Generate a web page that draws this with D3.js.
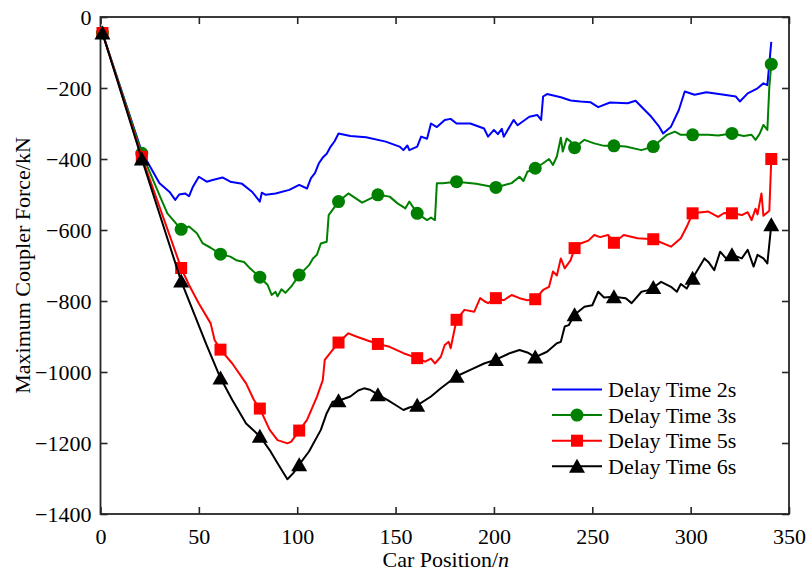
<!DOCTYPE html>
<html>
<head>
<meta charset="utf-8">
<script src="https://cdn.jsdelivr.net/npm/d3@7"></script>
<style>
  html, body { margin: 0; padding: 0; background: #fff; }
  svg { display: block; }
  svg text { font-family: "Liberation Serif", "Tinos", "Times New Roman", "DejaVu Serif", serif !important; fill: #000; }
</style>
</head>
<body>
<svg id="chart" width="811" height="573"></svg>
<script>
// Maximum coupler force along the train for four brake delay times.
// Each series is [car position, force in kN]; markers are shown every 20 cars.
const seriesNames = ["Delay Time 2s", "Delay Time 3s", "Delay Time 5s", "Delay Time 6s"];
const seriesColors = ["#0000ff", "#008000", "#ff0000", "#000000"];
const seriesMarkers = ["none", "circle", "square", "triangle"];

const delay2s = [
  [1,-46],[21,-380],[30,-468],[35,-492],[38,-515],[40,-500],[43,-497],[45,-505],[47,-478],[50,-450],
  [54,-464],[57,-459],[62,-452],[66,-464],[72,-470],[77,-492],[81,-520],[82,-495],[84,-501],[89,-497],
  [96,-487],[101,-473],[105,-483],[107,-454],[109,-440],[111,-412],[113,-396],[115,-385],[117,-365],
  [119,-350],[121,-328],[127,-335],
  [135,-339],[145,-351],[152,-365],[154,-375],[156,-362],[157,-375],[161,-365],[163,-337],[166,-343],
  [168,-300],[171,-310],[175,-290],[178,-287],[181,-300],[188,-300],[195,-314],[197,-337],[200,-318],
  [202,-330],[204,-315],[205,-337],[210,-290],[212,-305],[218,-281],[222,-276],[224,-290],[225,-224],
  [227,-217],[234,-226],[239,-235],[244,-238],[249,-240],[253,-254],[259,-241],[268,-243],[272,-236],
  [280,-281],[284,-309],[286,-328],[290,-309],[294,-262],[297,-210],[302,-219],[308,-212],[317,-219],
  [323,-224],[325,-238],[329,-215],[334,-201],[337,-187],[339,-192],[341,-70]
];

const delay3s = [
  [1,-45],[21,-384],[31,-515],[34,-553],[41,-598],[45,-590],[49,-609],[52,-638],[56,-650],[61,-668],
  [66,-675],[69,-685],[73,-690],[76,-708],[81,-733],[85,-755],[87,-783],[89,-774],[90,-787],[92,-767],
  [94,-777],[97,-759],[101,-727],[106,-699],[108,-680],[110,-670],[112,-638],[115,-633],[116,-558],
  [121,-520],[126,-497],[133,-523],[141,-501],[147,-506],[151,-525],[155,-539],[157,-520],[161,-553],
  [166,-572],[168,-565],[170,-572],[171,-468],[174,-468],[181,-464],[191,-470],[201,-480],[205,-474],
  [209,-468],[213,-450],[215,-462],[217,-436],[221,-426],[225,-412],[228,-400],[230,-417],[232,-393],
  [234,-340],[235,-379],[237,-342],[239,-351],[241,-368],[246,-346],[251,-356],[256,-363],[261,-363],
  [267,-365],[275,-375],[281,-365],[288,-332],[292,-323],[295,-332],[301,-332],[309,-332],[314,-334],
  [321,-328],[327,-335],[331,-332],[333,-346],[335,-330],[337,-304],[339,-318],[340,-196],[341,-133]
];

const delay5s = [
  [1,-45],[21,-394],[41,-707],[45,-755],[50,-807],[56,-863],[58,-910],[61,-937],[67,-976],[74,-1032],
  [78,-1079],[81,-1103],[86,-1163],[90,-1192],[95,-1201],[97,-1196],[101,-1165],[105,-1135],[110,-1070],
  [113,-1023],[114,-966],[117,-945],[121,-917],[126,-891],[130,-900],[135,-910],[141,-921],[147,-929],
  [154,-947],[161,-961],[165,-971],[168,-962],[170,-976],[173,-957],[175,-924],[177,-915],[178,-933],
  [181,-853],[185,-825],[190,-830],[193,-792],[195,-800],[197,-806],[201,-792],[205,-798],[209,-783],
  [213,-792],[217,-798],[221,-795],[225,-769],[228,-760],[230,-717],[232,-728],[234,-680],[236,-708],
  [239,-685],[241,-651],[244,-638],[248,-630],[251,-614],[254,-620],[258,-614],[261,-636],[266,-614],
  [273,-623],[281,-626],[290,-647],[295,-623],[298,-591],[301,-553],[309,-548],[314,-563],[317,-552],
  [321,-553],[326,-558],[329,-550],[331,-572],[333,-540],[334,-556],[336,-497],[337,-560],[340,-546],
  [341,-400]
];

const delay6s = [
  [1,-45],[21,-400],[41,-744],[54,-925],[61,-1017],[67,-1079],[74,-1145],[81,-1181],[86,-1220],
  [90,-1257],[95,-1302],[98,-1285],[101,-1261],[106,-1224],[112,-1163],[115,-1116],[118,-1084],[121,-1081],
  [127,-1069],[131,-1052],[134,-1046],[137,-1050],[141,-1064],[146,-1079],[150,-1093],[154,-1107],
  [157,-1100],[161,-1094],[168,-1069],[173,-1046],[181,-1012],[188,-994],[195,-976],[201,-965],[208,-947],
  [213,-938],[217,-945],[221,-958],[227,-943],[232,-919],[234,-915],[236,-872],[238,-868],[241,-839],
  [246,-816],[250,-812],[253,-774],[256,-790],[261,-788],[267,-792],[270,-806],[275,-774],[278,-770],
  [281,-762],[285,-746],[290,-760],[293,-774],[295,-752],[298,-765],[301,-736],[307,-680],[309,-690],
  [312,-713],[315,-661],[318,-680],[321,-670],[326,-680],[329,-656],[332,-703],[334,-670],[337,-680],
  [339,-694],[341,-585]
];

const seriesData = [delay2s, delay3s, delay5s, delay6s];

const xTicks = [0, 50, 100, 150, 200, 250, 300, 350];
const yTicks = [0, -200, -400, -600, -800, -1000, -1200, -1400];
const xTitle = "Car Position/";
const xTitleItalic = "n";
const yTitle = "Maximum Coupler Force/kN";

const svg = d3.select("#chart");
const plotLeft = 100.5, plotRight = 789, plotTop = 17, plotBottom = 514;
const fontSize = 22;

const x = d3.scaleLinear().domain([0, 350]).range([plotLeft, plotRight]);
const y = d3.scaleLinear().domain([-1400, 0]).range([plotBottom, plotTop]);

const frameColor = "#262626";
const fmt = d3.format("d");

// Axes with inward ticks, mirrored on top and right
function styleAxis(g) {
  g.attr("font-family", null).attr("font-size", null);
  g.select(".domain").remove();
  g.selectAll(".tick line").attr("stroke", frameColor).attr("stroke-width", 1.6);
  g.selectAll(".tick text").attr("font-size", fontSize).attr("fill", "#000");
}

svg.append("g").attr("transform", `translate(0,${plotBottom})`)
  .call(d3.axisBottom(x).tickValues(xTicks).tickFormat(fmt).tickSizeInner(-7).tickSizeOuter(0).tickPadding(14))
  .call(styleAxis);
svg.append("g").attr("transform", `translate(0,${plotTop})`)
  .call(d3.axisTop(x).tickValues(xTicks).tickSizeInner(-7).tickSizeOuter(0).tickFormat(""))
  .call(styleAxis);
svg.append("g").attr("transform", `translate(${plotLeft},0)`)
  .call(d3.axisLeft(y).tickValues(yTicks).tickFormat(fmt).tickSizeInner(-7).tickSizeOuter(0).tickPadding(9))
  .call(styleAxis);
svg.append("g").attr("transform", `translate(${plotRight},0)`)
  .call(d3.axisRight(y).tickValues(yTicks).tickSizeInner(-7).tickSizeOuter(0).tickFormat(""))
  .call(styleAxis);

// Plot frame
svg.append("rect")
  .attr("x", plotLeft).attr("y", plotTop)
  .attr("width", plotRight - plotLeft).attr("height", plotBottom - plotTop)
  .attr("fill", "none").attr("stroke", frameColor).attr("stroke-width", 1.8);

// Marker shapes
function markerPath(kind) {
  if (kind === "circle") return d3.symbol(d3.symbolCircle, Math.PI * 6.5 * 6.5)();
  if (kind === "square") return "M-6,-6H6V6H-6Z";
  if (kind === "triangle") return "M0,-7.5L8,6.5L-8,6.5Z";
  return null;
}

const line = d3.line().x(d => x(d[0])).y(d => y(d[1]));

seriesData.forEach((data, i) => {
  const g = svg.append("g");
  g.append("path").datum(data)
    .attr("d", line)
    .attr("fill", "none")
    .attr("stroke", seriesColors[i])
    .attr("stroke-width", 2)
    .attr("stroke-linejoin", "round");
  const mk = markerPath(seriesMarkers[i]);
  if (mk) {
    g.selectAll("path.mk").data(data.filter(d => (d[0] - 1) % 20 === 0))
      .join("path").attr("class", "mk")
      .attr("d", mk)
      .attr("transform", d => `translate(${x(d[0])},${y(d[1])})`)
      .attr("fill", seriesColors[i]);
  }
});

// Axis titles
svg.append("text")
  .attr("x", (plotLeft + plotRight) / 2 + 1).attr("y", 567)
  .attr("text-anchor", "middle").attr("font-size", fontSize)
  .text(xTitle)
  .append("tspan").attr("font-style", "italic").text(xTitleItalic);

svg.append("text")
  .attr("transform", `translate(30,${(plotTop + plotBottom) / 2}) rotate(-90)`)
  .attr("text-anchor", "middle").attr("font-size", fontSize)
  .text(yTitle);

// Legend
const legend = svg.append("g");
const legX0 = 552, legX1 = 602, legY0 = 389.5, legDy = 25.6;
seriesNames.forEach((name, i) => {
  const yy = legY0 + i * legDy;
  legend.append("line")
    .attr("x1", legX0).attr("x2", legX1).attr("y1", yy).attr("y2", yy)
    .attr("stroke", seriesColors[i]).attr("stroke-width", 2);
  const mk = markerPath(seriesMarkers[i]);
  if (mk) {
    legend.append("path").attr("d", mk)
      .attr("transform", `translate(${(legX0 + legX1) / 2},${yy})`)
      .attr("fill", seriesColors[i]);
  }
  legend.append("text")
    .attr("x", 608).attr("y", yy + 7.5)
    .attr("font-size", fontSize)
    .text(name);
});
</script>
</body>
</html>
